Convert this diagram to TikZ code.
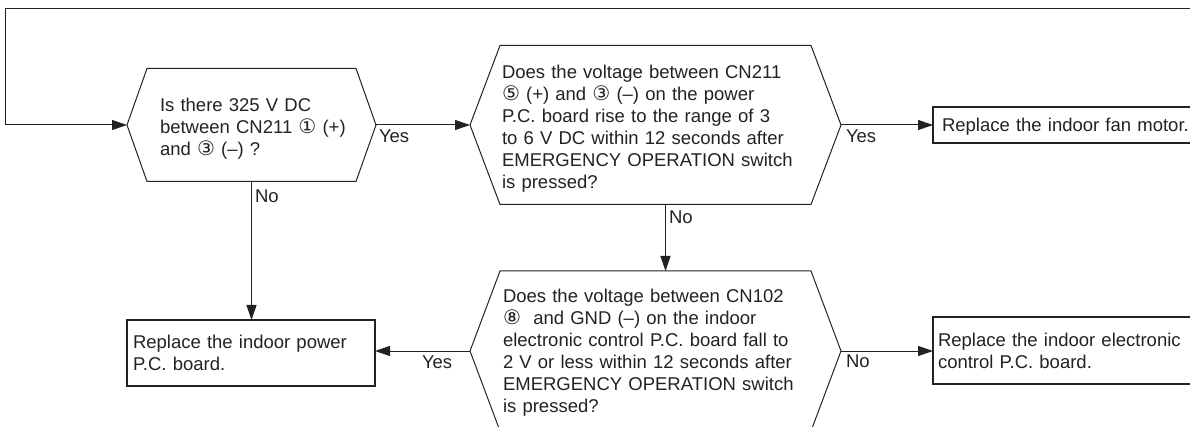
\documentclass[tikz,border=0pt]{standalone}
\usepackage{fontspec}
\setmainfont{Liberation Sans}
\newfontfamily\symf{DejaVu Sans}
\usetikzlibrary{arrows.meta}
\definecolor{ink}{HTML}{222222}
\newcommand{\cnum}[1]{{\symf\fontsize{20}{22}\selectfont #1}}
\newcommand{\drawhex}[2]{%
  \draw[hexline] (#1.west) -- ([xshift=#2]#1.north west) -- ([xshift=-#2]#1.north east)
    -- (#1.east) -- ([xshift=-#2]#1.south east) -- ([xshift=#2]#1.south west) -- cycle;}
\begin{document}
\begin{tikzpicture}[x=1pt,y=-1pt]
\tikzset{
  base/.style={font=\fontsize{18.5}{22}\selectfont, text=ink, inner sep=0pt, outer sep=0pt},
  hexbox/.style={base, rectangle, align=left},
  hexline/.style={draw=ink, line width=1pt},
  endbox/.style={base, draw=ink, line width=2.6pt, rectangle, align=left, anchor=north west},
  lbl/.style={base, anchor=base west},
  arr/.style={draw=ink, line width=1pt, -{Triangle[length=15pt,width=10pt]}},
}
\useasboundingbox (0,0) rectangle (1190,427);
\clip (0,0) rectangle (1190,427);

% decisions
\node[hexbox, minimum width=249pt, minimum height=113pt, text width=183pt]
  (h1) at (251.5,125)
  {\rule{0pt}{20pt}Is there 325 V DC\\\mbox{between CN211 \cnum{①} (+)}\\and \cnum{③} (–) ?};
\drawhex{h1}{20pt}

\node[hexbox, minimum width=371pt, minimum height=159pt, text width=307pt]
  (h2) at (655.5,125)
  {\rule{0pt}{21pt}Does the voltage between CN211\\\cnum{⑤} (+) and \cnum{③} (–) on the power\\P.C. board rise to the range of 3\\to 6 V DC within 12 seconds after\\EMERGENCY OPERATION switch\\is pressed?};
\drawhex{h2}{30pt}

\node[hexbox, minimum width=371pt, minimum height=160pt, text width=305pt]
  (h3) at (655.5,351)
  {\rule{0pt}{16pt}Does the voltage between CN102\\\cnum{⑧}\ \ and GND (–) on the indoor\\electronic control P.C. board fall to\\2 V or less within 12 seconds after\\EMERGENCY OPERATION switch\\is pressed?};
\drawhex{h3}{30pt}

% results
\node[endbox, minimum width=300pt, minimum height=36pt, inner xsep=9pt,
  text width=282pt, text depth=0pt] (b1) at (933,107)
  {Replace the indoor fan motor.};
\node[endbox, minimum width=248pt, minimum height=66pt, inner xsep=6pt,
  text width=236pt] (b2) at (127,320)
  {Replace the indoor power\\P.C. board.};
\node[endbox, minimum width=300pt, minimum height=67pt, inner xsep=5pt,
  text width=290pt] (b3) at (933,317)
  {Replace the indoor electronic\\control P.C. board.};

% loop back
\coordinate (loopin) at (1200,8.5);
\coordinate (loopcorner) at (5,8.5);
\draw[arr] (loopin) -- (loopcorner) |- (h1.west);

% connectors
\draw[arr] (h1.east) -- (h2.west);
\draw[arr] (h2.east) -- (h2.east -| b1.west);
\draw[arr] (h1.south) -- (h1.south |- b2.north);
\draw[arr] ([xshift=10pt]h2.south) -- ([xshift=10pt]h2.south |- h3.north);
\draw[arr] (h3.west) -- (h3.west -| b2.east);
\draw[arr] (h3.east) -- (h3.east -| b3.west);

% labels
\node[lbl] (y1) at (379,143) {Yes};
\node[lbl] (y2) at (846,143) {Yes};
\node[lbl] (n1) at (255,203) {No};
\node[lbl] (n2) at (669,224) {No};
\node[lbl] (y3) at (422,368) {Yes};
\node[lbl] (n3) at (846,367) {No};
\end{tikzpicture}
\end{document}
